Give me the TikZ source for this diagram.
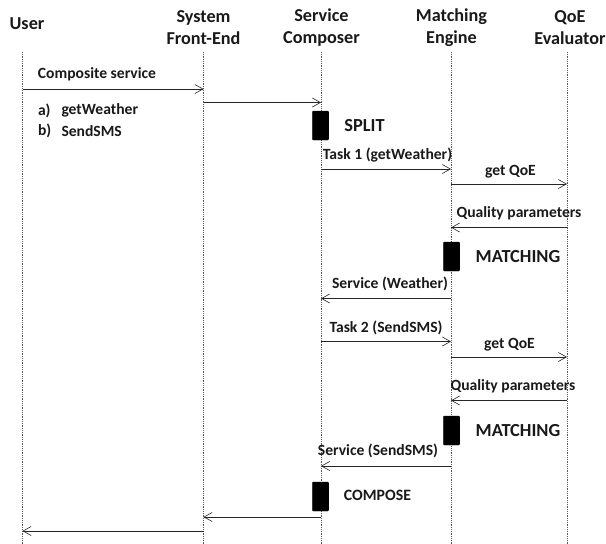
\documentclass[tikz,border=0pt]{standalone}
\usepackage{fontspec}
\setmainfont{Carlito}
\usetikzlibrary{arrows.meta}
\begin{document}
\begin{tikzpicture}[x=1pt,y=-1pt,
  every node/.style={inner sep=0pt,outer sep=0pt,font=\bfseries\fontsize{15.6}{18}\selectfont,text=black!90},
  head/.style={align=center,font=\bfseries\fontsize{18.2}{22}\selectfont},
  life/.style={draw=black!65,line width=0.8pt,dash pattern=on 0.9pt off 0.9pt},
  msg/.style={draw=black!85,line width=0.9pt,-{Straight Barb[length=8pt,width=9pt,line width=0.6pt]}},
  bar/.style={draw=black,fill=black,rounded corners=1.2pt,minimum width=16.5pt,minimum height=29pt},
  tag/.style={font=\bfseries\fontsize{18.4}{22}\selectfont}]
\useasboundingbox (0,0) rectangle (606,544);
% headers
\node[head] (hU) at (27,24) {User};
\node[head] (hF) at (203.5,28) {System\\Front-End};
\node[head] (hS) at (321.5,28) {Service\\Composer};
\node[head] (hM) at (451.5,28) {Matching\\Engine};
\node[head] (hQ) at (570,28) {QoE\\Evaluator};
% lifelines
\foreach \n/\x in {U/22.5,F/203.5,S/321,M/451,Q/567}{
  \coordinate (t\n) at (\x,52);
  \coordinate (b\n) at (\x,544);
  \draw[life] (t\n) -- (b\n);
}
% activation bars
\node[bar] (split) at (320.5,125.5) {};
\node[bar] (match1) at (451.5,256.5) {};
\node[bar] (match2) at (451.5,430.5) {};
\node[bar] (compose) at (320.5,496.5) {};
% message end points
\foreach \n/\y in {1/89,2/102.5,3/169,4/184,5/227.5,6/298.5,7/341.5,8/357,9/400.5,10/466,11/517,12/531}{
  \coordinate (yU\n) at (22.5,\y);
  \coordinate (yF\n) at (203.5,\y);
  \coordinate (yS\n) at (321,\y);
  \coordinate (yM\n) at (451,\y);
  \coordinate (yQ\n) at (567,\y);
}
\draw[msg] (yU1) -- (yF1);
\draw[msg] (yF2) -- (yS2);
\draw[msg] (yS3) -- (yM3);
\draw[msg] (yM4) -- (yQ4);
\draw[msg] (yQ5) -- (yM5);
\draw[msg] (yM6) -- (yS6);
\draw[msg] (yS7) -- (yM7);
\draw[msg] (yM8) -- (yQ8);
\draw[msg] (yQ9) -- (yM9);
\draw[msg] (yM10) -- (yS10);
\draw[msg] (yS11) -- (yF11);
\draw[msg] (yF12) -- (yU12);
% labels
\node (l1) at (97,74) {Composite service};
\node[anchor=west] (l2a) at (38,110.5) {a)};
\node[anchor=west] (l2b) at (61.5,110.5) {getWeather};
\node[anchor=west] (l3a) at (38,131) {b)};
\node[anchor=west] (l3b) at (61.5,131) {SendSMS};
\node[tag] (tSplit) at (364.5,125.5) {SPLIT};
\node (l4) at (387.5,155.5) {Task 1 (getWeather)};
\node (l5) at (510.5,171.5) {get QoE};
\node (l6) at (519,213.5) {Quality parameters};
\node[tag] (tM1) at (518,256.5) {MATCHING};
\node (l7) at (390,283.5) {Service (Weather)};
\node (l8) at (386,328) {Task 2 (SendSMS)};
\node (l9) at (509.5,344.5) {get QoE};
\node (l10) at (513,386.5) {Quality parameters};
\node[tag] (tM2) at (518,430.5) {MATCHING};
\node (l11) at (378,451) {Service (SendSMS)};
\node[font=\bfseries\fontsize{15.8}{18}\selectfont] (tC) at (377.5,495) {COMPOSE};
\end{tikzpicture}
\end{document}
